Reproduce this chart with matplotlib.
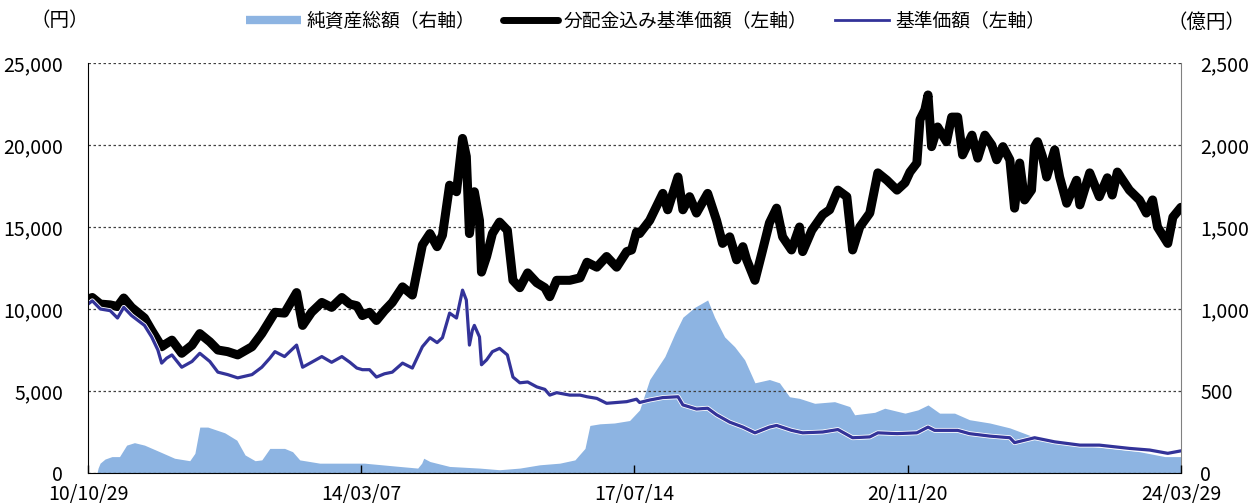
import matplotlib
matplotlib.use("Agg")
import matplotlib.pyplot as plt
import matplotlib.dates as mdates
import matplotlib.patheffects as pe
from matplotlib.lines import Line2D
from matplotlib.ticker import FuncFormatter
import pandas as pd

plt.rcParams['font.family'] = ['Noto Sans CJK JP', 'DejaVu Sans']

# 分配金込み基準価額（左軸, 円）
nav_div_dates = [
    "2010-10-29", "2010-11-17", "2010-12-23", "2011-02-05", "2011-03-10", "2011-04-07", "2011-05-12",
    "2011-07-09", "2011-08-10", "2011-09-24", "2011-10-16", "2011-11-09", "2011-12-23", "2012-02-07",
    "2012-03-13", "2012-04-27", "2012-06-02", "2012-07-16", "2012-08-30", "2012-11-02", "2012-12-16",
    "2013-01-21", "2013-02-13", "2013-03-28", "2013-05-21", "2013-06-17", "2013-07-27", "2013-09-11",
    "2013-10-25", "2013-12-10", "2014-01-15", "2014-02-15", "2014-03-12", "2014-04-13", "2014-05-14",
    "2014-06-19", "2014-07-24", "2014-09-08", "2014-10-22", "2014-12-06", "2015-01-09", "2015-02-10",
    "2015-03-06", "2015-04-07", "2015-05-08", "2015-06-04", "2015-06-21", "2015-07-05", "2015-07-18",
    "2015-07-27", "2015-08-19", "2015-08-28", "2015-09-20", "2015-10-16", "2015-11-17", "2015-12-22",
    "2016-01-16", "2016-02-16", "2016-03-22", "2016-05-02", "2016-06-07", "2016-06-29", "2016-07-30",
    "2016-09-27", "2016-11-12", "2016-12-13", "2017-01-26", "2017-03-11", "2017-04-25", "2017-06-09",
    "2017-07-01", "2017-07-23", "2017-08-06", "2017-09-20", "2017-11-18", "2017-12-10", "2018-01-25",
    "2018-02-16", "2018-03-18", "2018-04-18", "2018-06-07", "2018-07-17", "2018-08-13", "2018-09-14",
    "2018-10-15", "2018-11-12", "2018-11-29", "2019-01-05", "2019-02-05", "2019-03-11", "2019-04-12",
    "2019-05-09", "2019-06-18", "2019-07-24", "2019-08-07", "2019-09-17", "2019-11-05", "2019-12-06",
    "2020-01-12", "2020-02-21", "2020-03-18", "2020-04-19", "2020-06-03", "2020-07-09", "2020-08-19",
    "2020-10-03", "2020-11-08", "2020-11-30", "2020-12-31", "2021-01-14", "2021-02-05", "2021-02-19",
    "2021-03-07", "2021-04-03", "2021-05-13", "2021-06-05", "2021-07-02", "2021-07-24", "2021-09-04",
    "2021-09-30", "2021-11-01", "2021-12-02", "2021-12-24", "2022-01-21", "2022-02-21", "2022-03-14",
    "2022-04-06", "2022-04-28", "2022-05-29", "2022-06-12", "2022-06-25", "2022-07-17", "2022-08-05",
    "2022-09-10", "2022-10-02", "2022-11-03", "2022-12-17", "2023-01-01", "2023-02-14", "2023-03-29",
    "2023-05-04", "2023-05-26", "2023-06-18", "2023-08-11", "2023-09-25", "2023-10-26", "2023-11-23",
    "2023-12-15", "2024-01-30", "2024-02-22", "2024-03-29",
]
nav_div = [
    10600, 10700, 10300, 10250, 10150, 10670, 10100,
    9450, 8700, 7700, 7900, 8100, 7300, 7800,
    8500, 8000, 7500, 7400, 7200, 7700, 8500,
    9300, 9800, 9750, 11000, 9000, 9800, 10400,
    10100, 10700, 10300, 10200, 9600, 9800, 9300,
    9900, 10400, 11350, 10850, 13900, 14600, 13800,
    14500, 17550, 17150, 20400, 19300, 14600, 16000,
    17150, 15400, 12250, 13200, 14600, 15300, 14800,
    11750, 11300, 12200, 11600, 11300, 10750, 11750,
    11750, 11900, 12850, 12550, 13200, 12550, 13500,
    13600, 14700, 14600, 15400, 17050, 16050, 18050,
    16050, 16850, 15850, 17050, 15400, 14000, 14400,
    13000, 13800, 13000, 11750, 13400, 15250, 16150,
    14400, 13600, 15000, 13500, 14800, 15750, 16050,
    17250, 16850, 13600, 15000, 15850, 18300, 17850,
    17250, 17700, 18350, 18900, 21550, 22150, 23050,
    19900, 21100, 20200, 21700, 21700, 19400, 20600,
    19200, 20600, 20000, 19100, 19900, 19100, 16150,
    18900, 16650, 17250, 19900, 20200, 19300, 18050,
    19700, 18050, 16450, 17850, 16350, 18300, 16850,
    18000, 16950, 18350, 17250, 16650, 15850, 16650,
    15000, 14000, 15600, 16200,
]

# 基準価額（左軸, 円）
nav_dates = [
    "2010-10-29", "2010-11-17", "2010-12-23", "2011-02-05", "2011-03-10", "2011-04-07", "2011-05-12",
    "2011-07-09", "2011-08-10", "2011-09-07", "2011-09-24", "2011-10-16", "2011-11-09", "2011-12-23",
    "2012-02-07", "2012-03-13", "2012-04-27", "2012-06-02", "2012-07-16", "2012-08-30", "2012-11-02",
    "2012-12-16", "2013-01-21", "2013-02-13", "2013-03-28", "2013-05-21", "2013-06-17", "2013-07-27",
    "2013-09-11", "2013-10-25", "2013-12-10", "2014-01-15", "2014-02-15", "2014-03-12", "2014-04-13",
    "2014-05-14", "2014-06-19", "2014-07-24", "2014-09-08", "2014-10-22", "2014-12-06", "2015-01-09",
    "2015-02-10", "2015-03-06", "2015-04-07", "2015-05-08", "2015-06-04", "2015-06-21", "2015-07-05",
    "2015-07-18", "2015-07-27", "2015-08-19", "2015-08-28", "2015-09-20", "2015-10-16", "2015-11-17",
    "2015-12-22", "2016-01-16", "2016-02-16", "2016-03-22", "2016-05-02", "2016-06-07", "2016-06-29",
    "2016-07-30", "2016-09-27", "2016-11-12", "2016-12-13", "2017-01-26", "2017-03-11", "2017-04-25",
    "2017-06-09", "2017-07-23", "2017-08-06", "2017-09-20", "2017-11-18", "2018-01-25", "2018-02-16",
    "2018-04-18", "2018-06-07", "2018-07-17", "2018-09-14", "2018-11-12", "2019-01-05", "2019-03-11",
    "2019-04-12", "2019-06-18", "2019-08-07", "2019-11-05", "2020-01-12", "2020-03-18", "2020-06-03",
    "2020-07-09", "2020-10-03", "2020-12-31", "2021-02-19", "2021-03-20", "2021-07-02", "2021-08-24",
    "2021-11-23", "2022-02-21", "2022-03-14", "2022-06-12", "2022-09-10", "2023-01-01", "2023-03-29",
    "2023-08-11", "2023-11-10", "2024-01-30", "2024-03-29",
]
nav = [
    10300, 10500, 10000, 9900, 9450, 10100, 9600,
    9000, 8300, 7500, 6700, 7000, 7200, 6450,
    6800, 7300, 6800, 6150, 6000, 5800, 6000,
    6450, 7000, 7400, 7100, 7800, 6450, 6750,
    7100, 6750, 7100, 6750, 6400, 6300, 6300,
    5850, 6050, 6150, 6700, 6400, 7700, 8250,
    7950, 8250, 9750, 9450, 11150, 10550, 7800,
    8700, 9000, 8300, 6600, 6900, 7400, 7600,
    7200, 5850, 5500, 5550, 5250, 5100, 4750,
    4900, 4750, 4750, 4650, 4550, 4250, 4300,
    4350, 4500, 4300, 4450, 4600, 4650, 4150,
    3900, 3950, 3550, 3100, 2800, 2450, 2800,
    2900, 2600, 2450, 2500, 2650, 2150, 2200,
    2450, 2400, 2450, 2800, 2600, 2600, 2400,
    2250, 2150, 1850, 2150, 1900, 1700, 1700,
    1500, 1400, 1200, 1350,
]

# 純資産総額（右軸, 億円）
aum_dates = [
    "2010-12-08", "2010-12-13", "2010-12-22", "2011-01-13", "2011-02-13", "2011-03-19", "2011-04-20",
    "2011-05-25", "2011-07-09", "2011-09-15", "2011-11-21", "2012-01-28", "2012-02-20", "2012-03-13",
    "2012-04-18", "2012-07-03", "2012-08-26", "2012-10-02", "2012-11-16", "2012-12-16", "2013-01-21",
    "2013-03-28", "2013-05-03", "2013-06-04", "2013-09-02", "2013-12-23", "2014-03-21", "2014-08-26",
    "2014-11-15", "2014-12-03", "2014-12-12", "2015-01-09", "2015-04-07", "2015-08-19", "2015-11-17",
    "2016-02-16", "2016-05-15", "2016-08-13", "2016-10-20", "2016-12-04", "2016-12-26", "2017-02-09",
    "2017-04-15", "2017-06-22", "2017-08-06", "2017-09-20", "2017-11-27", "2018-01-11", "2018-02-16",
    "2018-04-10", "2018-06-07", "2018-07-08", "2018-08-22", "2018-10-06", "2018-11-20", "2019-01-05",
    "2019-03-11", "2019-04-25", "2019-06-09", "2019-07-24", "2019-09-30", "2019-12-28", "2020-03-05",
    "2020-03-27", "2020-06-25", "2020-08-09", "2020-11-08", "2021-01-05", "2021-02-19", "2021-04-12",
    "2021-06-18", "2021-08-24", "2021-11-23", "2022-02-21", "2022-05-20", "2022-08-19", "2023-01-01",
    "2023-05-13", "2023-09-25", "2024-01-17", "2024-03-29",
]
aum = [
    0, 30, 60, 85, 100, 100, 170,
    185, 170, 130, 90, 75, 120, 280,
    280, 245, 200, 110, 75, 80, 150,
    150, 130, 80, 60, 60, 60, 40,
    30, 60, 90, 70, 40, 30, 20,
    30, 50, 60, 80, 150, 290, 300,
    305, 320, 385, 570, 710, 850, 950,
    1010, 1055, 950, 830, 770, 690, 550,
    570, 550, 465, 455, 425, 435, 405,
    355, 370, 395, 365, 385, 415, 365,
    365, 325, 305, 275, 230, 200, 170,
    150, 130, 100, 100,
]

tick_dates = ["2010-10-29", "2014-03-07", "2017-07-14", "2020-11-20", "2024-03-29"]

area_color = "#8DB4E2"
nav_color = "#333399"

fig = plt.figure(figsize=(12.49, 5.04), dpi=100)
ax = fig.add_axes([0.0705, 0.0615, 0.875, 0.8135])
ax2 = ax.twinx()

ax2.fill_between(pd.to_datetime(aum_dates), aum, 0, color=area_color, lw=0)
ax2.set_ylim(0, 2500)
ax2.set_yticks(range(0, 2501, 500))

ax.plot(pd.to_datetime(nav_div_dates), nav_div, color="black", lw=6.5,
        solid_joinstyle="round", solid_capstyle="round")
ax.plot(pd.to_datetime(nav_dates), nav, color=nav_color, lw=2.3,
        path_effects=[pe.Stroke(linewidth=3.5, foreground="white"), pe.Normal()])
ax.set_ylim(0, 25000)
ax.set_yticks(range(0, 25001, 5000))
ax.set_zorder(ax2.get_zorder() + 1)
ax.patch.set_visible(False)

ax.set_xlim(pd.Timestamp("2010-10-29"), pd.Timestamp("2024-03-29"))
ax.set_xticks(pd.to_datetime(tick_dates))
ax.xaxis.set_major_formatter(mdates.DateFormatter("%y/%m/%d"))

ax.yaxis.grid(True, linestyle=(0, (2, 2)), color="#404040", lw=0.9)
ax.set_axisbelow(True)

comma = FuncFormatter(lambda v, p: f"{int(v):,}")
ax.yaxis.set_major_formatter(comma)
ax2.yaxis.set_major_formatter(comma)

ax.tick_params(axis="x", direction="in", length=6, width=1, labelsize=14, pad=8)
ax.tick_params(axis="y", length=0, labelsize=14, pad=18)
ax2.tick_params(axis="y", length=0, labelsize=14, pad=14)

for a in (ax, ax2):
    a.spines["top"].set_visible(False)
ax.spines["left"].set_color("black")
ax.spines["bottom"].set_color("black")
ax2.spines["right"].set_color("#808080")
ax2.spines["left"].set_visible(False)
ax2.spines["bottom"].set_visible(False)
ax.spines["right"].set_visible(False)

fig.text(0.048, 0.96, "（円）", fontsize=14, ha="center", va="center")
fig.text(0.997, 0.955, "（億円）", fontsize=14, ha="right", va="center")

handles = [
    Line2D([0], [0], color=area_color, lw=6, solid_capstyle="butt"),
    Line2D([0], [0], color="black", lw=5, solid_capstyle="round"),
    Line2D([0], [0], color=nav_color, lw=2),
]
labels = ["純資産総額（右軸）", "分配金込み基準価額（左軸）", "基準価額（左軸）"]
fig.legend(handles, labels, loc="center", bbox_to_anchor=(0.517, 0.958), ncol=3,
           frameon=False, fontsize=13.5, handlelength=2.9, handletextpad=0.3,
           columnspacing=1.5)

fig.savefig("out.png", dpi=100)
